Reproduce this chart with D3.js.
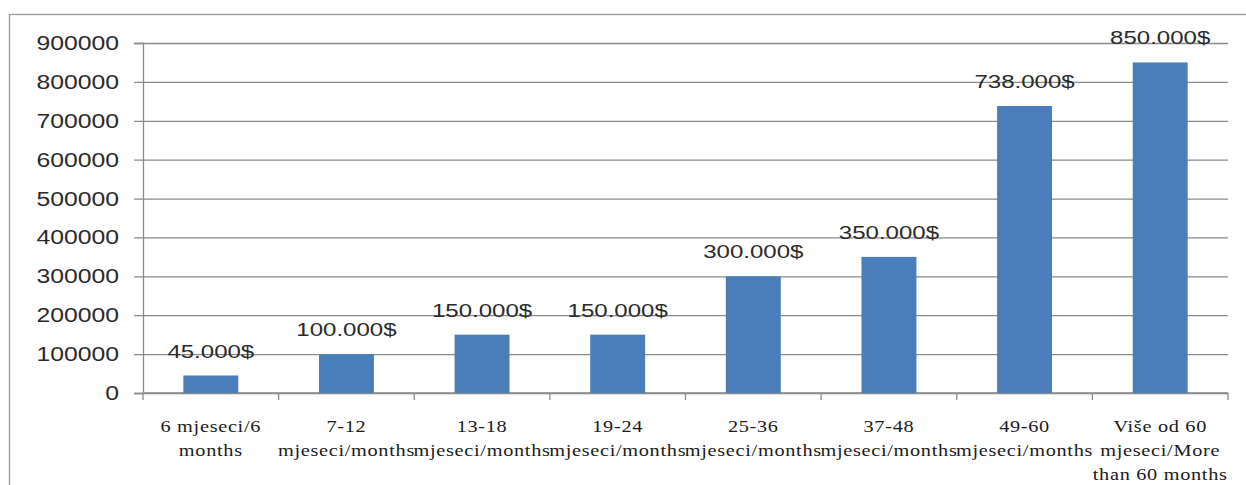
<!DOCTYPE html>
<html>
<head>
<meta charset="utf-8">
<script src="https://cdn.jsdelivr.net/npm/d3@7"></script>
<style>
  html, body { margin: 0; padding: 0; background: #fff; }
  svg { display: block; }
</style>
</head>
<body>
<svg id="chart" width="1246" height="485"></svg>
<script>
// Category labels (line-wrapped) and amounts per duration bracket
const categories = ["6m", "7-12", "13-18", "19-24", "25-36", "37-48", "49-60", "60+"];
const categoryLines = [
  ["6 mjeseci/6", "months"],
  ["7-12", "mjeseci/months"],
  ["13-18", "mjeseci/months"],
  ["19-24", "mjeseci/months"],
  ["25-36", "mjeseci/months"],
  ["37-48", "mjeseci/months"],
  ["49-60", "mjeseci/months"],
  ["Više od 60", "mjeseci/More", "than 60 months"]
];
const amounts = [45000, 100000, 150000, 150000, 300000, 350000, 738000, 850000];
const yTicks = [0, 100000, 200000, 300000, 400000, 500000, 600000, 700000, 800000, 900000];

const svg = d3.select("#chart");
const plotLeft = 143, plotRight = 1228, plotTop = 43, plotBottom = 393;
const gridColor = "#8a8a8a";

// Outer chart frame (open on the right and bottom edges of the canvas)
svg.append("rect")
  .attr("x", 9.5).attr("y", 14.5)
  .attr("width", 1300).attr("height", 600)
  .attr("fill", "none").attr("stroke", "#9a9a9a").attr("stroke-width", 1.3);

const x = d3.scaleBand().domain(categories).range([plotLeft, plotRight])
  .paddingInner(0.595).paddingOuter(0.2975);
const y = d3.scaleLinear().domain([0, 900000]).range([plotBottom, plotTop]);

// Horizontal gridlines + y axis with ticks to the left
const yAxis = d3.axisLeft(y).tickValues(yTicks).tickSize(9).tickPadding(0).tickFormat(d3.format("d"));
const gy = svg.append("g").attr("transform", `translate(${plotLeft},0)`).call(yAxis);
gy.select(".domain").attr("stroke", gridColor).attr("stroke-width", 1.3);
gy.selectAll(".tick line").attr("stroke", gridColor).attr("stroke-width", 1.3)
  .attr("x2", plotRight - plotLeft).attr("x1", -9);
gy.selectAll(".tick text").remove();

// y tick labels, horizontally widened
svg.append("g").selectAll("text").data(yTicks).join("text")
  .attr("transform", d => `translate(119,${y(d)}) scale(1.27,1)`)
  .attr("text-anchor", "end").attr("dy", "0.36em")
  .attr("font-family", "'Liberation Sans', Arial, sans-serif")
  .attr("font-size", 19.5).attr("fill", "#2a2a2a")
  .text(d3.format("d"));

// x axis with ticks at category boundaries
const gx = svg.append("g").attr("transform", `translate(0,${plotBottom})`);
gx.append("line").attr("x1", plotLeft).attr("x2", plotRight)
  .attr("stroke", gridColor).attr("stroke-width", 1.3);
const boundaries = categories.map(c => x(c) - x.step() * x.paddingInner() / 2)
  .concat([plotRight]);
gx.selectAll("line.tk").data(boundaries).join("line").attr("class", "tk")
  .attr("x1", d => d).attr("x2", d => d).attr("y1", 0).attr("y2", 7)
  .attr("stroke", gridColor).attr("stroke-width", 1.3);

// Bars
svg.append("g").selectAll("rect").data(amounts).join("rect")
  .attr("x", (d, i) => x(categories[i]))
  .attr("y", d => y(d))
  .attr("width", x.bandwidth())
  .attr("height", d => y(0) - y(d))
  .attr("fill", "#4a7ebb");

// Value labels above bars
const loc = d3.formatLocale({ decimal: ",", thousands: ".", grouping: [3], currency: ["", "$"] });
const fmt = loc.format("$,.0f");
svg.append("g").selectAll("text").data(amounts).join("text")
  .attr("transform", (d, i) => `translate(${x(categories[i]) + x.bandwidth() / 2},${y(d) - 18}) scale(1.3,1)`)
  .attr("text-anchor", "middle")
  .attr("font-family", "'Liberation Sans', Arial, sans-serif")
  .attr("font-size", 18.5).attr("fill", "#2a2a2a")
  .text(d => fmt(d));

// Category labels (serif, wrapped)
const cat = svg.append("g").selectAll("g").data(categoryLines).join("g")
  .attr("transform", (d, i) => `translate(${x(categories[i]) + x.bandwidth() / 2},0)`);
cat.selectAll("text").data(d => d).join("text")
  .attr("transform", (d, j) => `translate(0,${432 + j * 24}) scale(1.16,1)`)
  .attr("text-anchor", "middle")
  .attr("font-family", "'Liberation Serif', 'Times New Roman', serif")
  .attr("font-size", 17.5).attr("fill", "#1a1a1a")
  .attr("letter-spacing", 0.6)
  .text(d => d);
</script>
</body>
</html>
